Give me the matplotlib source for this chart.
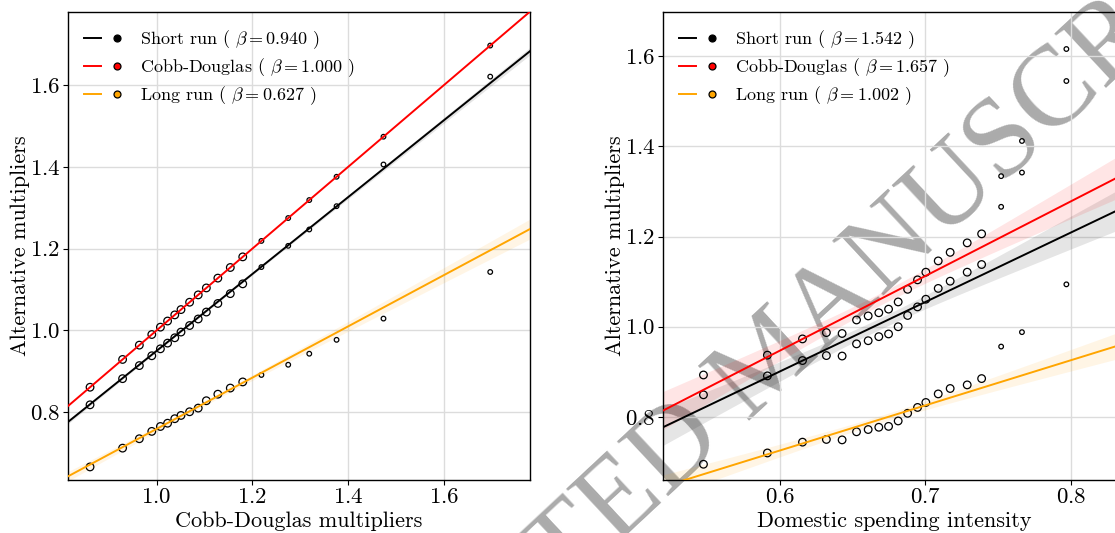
import numpy as np
import matplotlib
matplotlib.use('Agg')
import matplotlib.pyplot as plt
from matplotlib.lines import Line2D
from matplotlib.legend_handler import HandlerTuple

plt.rcParams['font.family'] = 'serif'
plt.rcParams['font.serif'] = ['cmr10']
plt.rcParams['mathtext.fontset'] = 'cm'
plt.rcParams['axes.formatter.use_mathtext'] = True

# ---- left panel: against Cobb-Douglas multipliers ----
cd_mult = [0.861, 0.929, 0.964, 0.990, 1.008, 1.023, 1.038, 1.051, 1.069, 1.087,
           1.104, 1.128, 1.154, 1.180, 1.219, 1.275, 1.319, 1.376, 1.474, 1.697]
short_left = [0.818, 0.882, 0.914, 0.938, 0.955, 0.969, 0.982, 0.996, 1.012, 1.028,
              1.045, 1.066, 1.090, 1.114, 1.155, 1.207, 1.247, 1.304, 1.406, 1.621]
cd_left = [0.861, 0.929, 0.964, 0.990, 1.008, 1.023, 1.038, 1.051, 1.069, 1.087,
           1.104, 1.128, 1.154, 1.180, 1.219, 1.275, 1.319, 1.376, 1.474, 1.697]
long_left = [0.666, 0.712, 0.735, 0.753, 0.765, 0.773, 0.784, 0.792, 0.801, 0.810,
             0.828, 0.844, 0.859, 0.874, 0.891, 0.916, 0.943, 0.977, 1.029, 1.143]
weight_left = [1] * 14 + [0.5] * 6

# ---- right panel: against domestic spending intensity ----
dom_int = [0.5476, 0.5915, 0.6156, 0.6320, 0.6428, 0.6527, 0.6607, 0.6680, 0.6747, 0.6813,
           0.6878, 0.6946, 0.7003, 0.7088, 0.7170, 0.7287, 0.7386, 0.7520, 0.7663, 0.7968]
cd_right = [0.893, 0.937, 0.973, 0.987, 0.985, 1.015, 1.024, 1.031, 1.039, 1.055,
            1.083, 1.104, 1.121, 1.146, 1.165, 1.186, 1.206, 1.334, 1.412, 1.616]
short_right = [0.849, 0.891, 0.925, 0.936, 0.935, 0.962, 0.969, 0.978, 0.984, 1.000,
               1.025, 1.044, 1.061, 1.085, 1.101, 1.121, 1.138, 1.266, 1.342, 1.545]
long_right = [0.695, 0.720, 0.744, 0.750, 0.749, 0.767, 0.772, 0.777, 0.779, 0.791,
              0.808, 0.821, 0.832, 0.851, 0.863, 0.871, 0.885, 0.956, 0.988, 1.094]
weight_right = [1] * 17 + [0.02] * 3

names = ['Short run', 'Cobb-Douglas', 'Long run']
colors = ['black', 'red', 'orange']
# fitted slopes (from the legend) and intercepts
betas_left = [0.940, 1.000, 0.627]
icpt_left = [0.010, 0.000, 0.132]
betas_right = [1.542, 1.657, 1.002]
icpt_right = [-0.0245, -0.0473, 0.1242]


def panel(ax, x, ys, w, betas, icpts, xlim, ylim, xticks, yticks, xlabel):
    x = np.array(x)
    w = np.array(w, dtype=float)
    sizes = np.where(w < 1, 11, 30)
    xx = np.linspace(xlim[0], xlim[1], 200)
    xm = np.sum(w * x) / w.sum()
    sxx = np.sum(w * (x - xm) ** 2)
    handles = []
    for y, c, name, b, a in zip(ys, colors, names, betas, icpts):
        y = np.array(y)
        ax.scatter(x, y, s=sizes, facecolors='none', edgecolors='black', linewidths=0.9, zorder=3)
        fit = b * xx + a
        res = y - (b * x + a)
        s2 = np.sum(w * res ** 2) / (w.sum() - 2)
        se = np.sqrt(s2 * (1 / w.sum() + (xx - xm) ** 2 / sxx))
        ax.fill_between(xx, fit - 1.96 * se, fit + 1.96 * se, color=c, alpha=0.1, lw=0, zorder=2)
        ax.plot(xx, fit, color=c, lw=1.4, zorder=4)
        h = (Line2D([], [], color=c, lw=1.4),
             Line2D([], [], ls='', marker='o', ms=5, mfc=c, mec='black', mew=0.9))
        handles.append((h, f'{name} ( $\\beta = {b:.3f}$ )'))
    ax.set_xlim(*xlim)
    ax.set_ylim(*ylim)
    ax.set_xticks(xticks)
    ax.set_yticks(yticks)
    ax.set_xlabel(xlabel, fontsize=16, labelpad=3)
    ax.set_ylabel('Alternative multipliers', fontsize=16, labelpad=0)
    ax.grid(True, color='#dcdcdc', lw=1)
    ax.set_axisbelow(True)
    ax.set_facecolor('none')
    ax.tick_params(labelsize=16.5, direction='out', length=3.5, width=0.8, pad=2)
    for s in ax.spines.values():
        s.set_color('black')
        s.set_linewidth(1)
    ax.legend([h for h, _ in handles], [l for _, l in handles],
              handler_map={tuple: HandlerTuple(ndivide=None, pad=0.45)},
              loc='upper left', frameon=False, fontsize=13, handlelength=2.3,
              handletextpad=0.8, labelspacing=0.3, borderaxespad=0.5)


fig = plt.figure(figsize=(11.15, 5.33), dpi=100)
fig.patch.set_facecolor('white')
ax1 = fig.add_axes([0.061, 0.0994, 0.4143, 0.878])
ax2 = fig.add_axes([0.5946, 0.0994, 0.4143, 0.878])

panel(ax1, cd_mult, [short_left, cd_left, long_left], weight_left, betas_left, icpt_left,
      (0.815, 1.78), (0.634, 1.779), [1.0, 1.2, 1.4, 1.6], [0.8, 1.0, 1.2, 1.4, 1.6],
      'Cobb-Douglas multipliers')
panel(ax2, dom_int, [short_right, cd_right, long_right], weight_right, betas_right, icpt_right,
      (0.5198, 0.837), (0.660, 1.698), [0.6, 0.7, 0.8], [0.8, 1.0, 1.2, 1.4, 1.6],
      'Domestic spending intensity')

fig.text(0.6915, 0.3208, 'ACCEPTED MANUSCRIPT', rotation=43, fontsize=82,
         color='#ababab', family='Liberation Serif', ha='center', va='center',
         rotation_mode='anchor', zorder=-1)

plt.savefig('out.png', dpi=100)
plt.close()
